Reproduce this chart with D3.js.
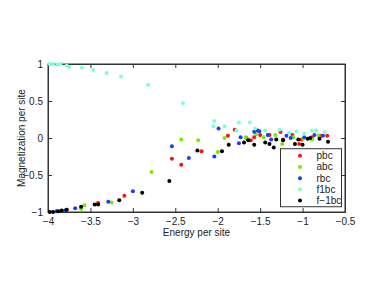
<!DOCTYPE html>
<html>
<head>
<meta charset="utf-8">
<script src="https://cdn.jsdelivr.net/npm/d3@7"></script>
<style>
  body { margin: 0; background: #fff; }
  text { font-family: "Liberation Sans", Arial, sans-serif; fill: #222; }
</style>
</head>
<body>
<div id="chart"></div>
<script>
// values
const xTicks = [-4, -3.5, -3, -2.5, -2, -1.5, -1, -0.5];
const yTicks = [-1, -0.5, 0, 0.5, 1];

const pbcE = [-3.78, -3.41, -3.10, -2.54, -2.43, -2.19, -1.88, -1.80, -1.66, -1.61, -1.57, -1.50, -1.39, -1.26, -1.23, -1.12, -1.04, -1.01, -0.89, -0.79, -0.71];
const pbcM = [-0.97, -0.88, -0.78, -0.28, -0.36, -0.18, 0.03, 0.11, 0.00, -0.03, 0.01, 0.04, 0.04, 0.08, -0.02, 0.04, -0.08, -0.02, 0.01, 0.03, 0.03];

const abcE = [-3.61, -3.57, -3.25, -2.78, -2.43, -2.23, -2.00, -1.92, -1.67, -1.55, -1.46, -1.32, -1.24, -1.11, -0.99, -0.89, -0.81];
const abcM = [-0.96, -0.91, -0.87, -0.46, -0.02, -0.03, -0.19, 0.00, 0.01, 0.05, 0.01, 0.04, -0.08, 0.01, -0.01, -0.02, 0.03];

const rbcE = [-3.90, -3.80, -3.68, -3.29, -3.00, -2.54, -2.34, -2.04, -1.99, -1.75, -1.73, -1.57, -1.53, -1.51, -1.41, -1.37, -1.19, -1.14, -0.98, -0.86, -0.76];
const rbcM = [-0.99, -0.98, -0.95, -0.86, -0.72, -0.11, -0.27, -0.25, 0.13, -0.07, 0.01, 0.085, 0.10, 0.09, 0.04, -0.02, 0.03, 0.00, 0.01, 0.04, 0.03];

const f1bcE = [-3.98, -3.94, -3.89, -3.85, -3.78, -3.75, -3.60, -3.47, -3.31, -3.14, -2.82, -2.41, -2.04, -2.05, -1.92, -1.75, -1.78, -1.62, -1.56, -1.44, -1.27, -1.16, -1.07, -0.98, -0.89, -0.84, -0.74];
const f1bcM = [1.00, 1.00, 0.99, 1.00, 0.98, 0.96, 0.95, 0.92, 0.88, 0.83, 0.72, 0.47, 0.23, 0.16, 0.16, 0.21, 0.10, 0.21, 0.13, 0.10, 0.11, 0.07, 0.09, 0.06, 0.10, 0.10, 0.08];

const fm1bcE = [-3.98, -3.94, -3.88, -3.84, -3.78, -3.61, -3.45, -3.41, -3.16, -2.89, -2.57, -2.24, -1.95, -1.87, -1.69, -1.64, -1.57, -1.44, -1.39, -1.34, -1.31, -1.23, -1.09, -1.05, -1.00, -0.94, -0.91, -0.80, -0.70];
const fm1bcM = [-1.00, -1.00, -0.99, -0.98, -0.97, -0.93, -0.90, -0.90, -0.84, -0.74, -0.58, -0.17, -0.18, -0.09, -0.06, -0.03, -0.09, -0.06, -0.08, -0.13, -0.02, -0.03, -0.08, -0.02, -0.09, -0.01, 0.00, -0.01, -0.05];

const seriesNames = ["pbc", "abc", "rbc", "f1bc", "f\u22121bc"];
const seriesColors = ["#ff1010", "#70ee00", "#1a3cff", "#7fffd4", "#000000"];
const seriesE = [pbcE, abcE, rbcE, f1bcE, fm1bcE];
const seriesM = [pbcM, abcM, rbcM, f1bcM, fm1bcM];

const W = 382, H = 287;
const margin = {top: 64, right: 37, bottom: 75, left: 48},
    width = W - margin.left - margin.right,
    height = H - margin.top - margin.bottom;

const svg = d3.select("#chart")
    .append("svg")
    .attr("width", W)
    .attr("height", H);

const g = svg.append("g")
    .attr("transform", `translate(${margin.left},${margin.top})`);

let xScale = d3.scaleLinear().domain([-4, -0.5]).range([0, width]);
let yScale = d3.scaleLinear().domain([-1, 1]).range([height, 0]);

const fmt = d => d3.format("")(d).replace("-", "\u2212");

// bottom + left axes with labels, ticks pointing inward
g.append("g")
    .attr("transform", `translate(0,${height})`)
    .call(d3.axisBottom(xScale).tickValues(xTicks).tickSizeInner(-4).tickSizeOuter(0).tickPadding(6).tickFormat(fmt));
g.append("g")
    .call(d3.axisLeft(yScale).tickValues(yTicks).tickSizeInner(-4).tickSizeOuter(0).tickPadding(5).tickFormat(fmt));
// top + right, ticks only
g.append("g")
    .call(d3.axisTop(xScale).tickValues(xTicks).tickSizeInner(-4).tickSizeOuter(0).tickFormat(""));
g.append("g")
    .attr("transform", `translate(${width},0)`)
    .call(d3.axisRight(yScale).tickValues(yTicks).tickSizeInner(-4).tickSizeOuter(0).tickFormat(""));

g.selectAll(".domain").attr("stroke", "#333");
g.selectAll(".tick line").attr("stroke", "#333");
g.selectAll(".tick text").style("font-size", "10px").attr("fill", "#222");

g.append("rect")
    .attr("width", width)
    .attr("height", height)
    .attr("fill", "none")
    .attr("stroke", "#333");

// points
seriesNames.forEach(function (name, i) {
    g.append("g")
        .selectAll("circle")
        .data(d3.zip(seriesE[i], seriesM[i]))
        .join("circle")
        .attr("cx", d => xScale(d[0]))
        .attr("cy", d => yScale(d[1]))
        .attr("r", 2)
        .attr("fill", seriesColors[i]);
});

// legend
const leg = g.append("g")
    .attr("transform", `translate(${xScale(-1.26)},${yScale(-0.145)})`);
leg.append("rect")
    .attr("width", 61)
    .attr("height", 58)
    .attr("fill", "#fff")
    .attr("stroke", "#333");
seriesNames.forEach(function (name, i) {
    leg.append("circle")
        .attr("cx", 19.5)
        .attr("cy", 7 + i * 11.2)
        .attr("r", 2)
        .attr("fill", seriesColors[i]);
    leg.append("text")
        .attr("x", 36)
        .attr("y", 7 + i * 11.2)
        .attr("dy", "0.35em")
        .style("font-size", "10px")
        .text(name);
});

// axis titles
svg.append("text")
    .attr("x", margin.left + width / 2)
    .attr("y", 236)
    .attr("text-anchor", "middle")
    .style("font-size", "10px")
    .text("Energy per site");
svg.append("text")
    .attr("transform", `translate(25,${margin.top + height / 2}) rotate(-90)`)
    .attr("text-anchor", "middle")
    .style("font-size", "10px")
    .text("Magnetization per site");
</script>
</body>
</html>
